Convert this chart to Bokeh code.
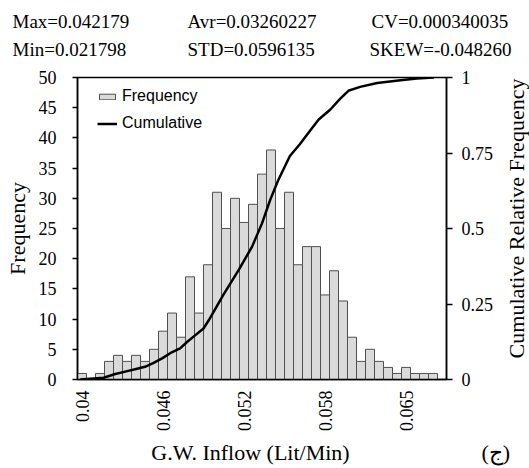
import math
from bokeh.plotting import figure
from bokeh.models import (Range1d, LinearAxis, FixedTicker, Legend, LegendItem,
                          NumeralTickFormatter)
from bokeh.core.properties import value
from bokeh.embed import file_html
from bokeh.resources import INLINE

# ---------------- data ----------------
bin_index = list(range(40))
frequency = [1, 0, 1, 3, 4, 3, 4, 3, 5, 8, 11, 7, 17, 11, 19, 31, 25, 30, 26, 29,
             34, 38, 25, 31, 19, 22, 22, 14, 18, 13, 7, 3, 5, 3, 2, 1, 2, 1, 1, 1]

x_tick_bins = [0, 9, 18, 27, 36]
x_tick_labels = ["0.04", "0.046", "0.052", "0.058", "0.065"]

y_ticks = [0, 5, 10, 15, 20, 25, 30, 35, 40, 45, 50]
cum_ticks = [0, 0.25, 0.5, 0.75, 1]

# cumulative relative frequency curve (x in bin units)
cum_x = [0.3, 2.9, 4.2, 5.3, 6.4, 7.5, 8.4, 9.4, 10.3, 11.4, 12.2, 13.1, 14.0, 14.6,
         16.2, 17.9, 19.4, 20.5, 21.4, 22.3, 23.6, 24.7, 25.9, 26.8, 28.1, 29.2,
         30.1, 31.4, 33.3, 35.9, 37.7, 39.6]
cum_y = [0.0, 0.006, 0.018, 0.026, 0.034, 0.042, 0.054, 0.070, 0.087, 0.103, 0.125,
         0.147, 0.169, 0.197, 0.280, 0.362, 0.440, 0.517, 0.594, 0.660, 0.740, 0.779,
         0.826, 0.861, 0.894, 0.930, 0.956, 0.969, 0.982, 0.991, 0.997, 1.0]

stats_row1 = ["Max=0.042179", "Avr=0.03260227", "CV=0.000340035"]
stats_row2 = ["Min=0.021798", "STD=0.0596135", "SKEW=-0.048260"]

x_title = "G.W. Inflow (Lit/Min)"
y_title = "Frequency"
y2_title = "Cumulative Relative Frequency"
panel_tag = "(ج)"

# ---------------- layout (canvas pixels) ----------------
W, H = 529, 468
FL, FR, FT, FB = 77, 446, 77, 379   # frame edges

SERIF = "Liberation Serif"
SANS = "Liberation Sans"

p = figure(width=W, height=H, output_backend="svg", toolbar_location=None,
           x_range=Range1d(0, 41), y_range=Range1d(0, 50),
           min_border_left=FL, min_border_right=W - FR, min_border_top=FT,
           min_border_bottom=H - FB, background_fill_color="white",
           border_fill_color="white")
p.extra_y_ranges = {"cum": Range1d(0, 1), "px": Range1d(FB, FT)}
p.extra_x_ranges = {"px": Range1d(FL, FR)}
p.xgrid.visible = False
p.ygrid.visible = False
p.outline_line_color = "black"
p.outline_line_width = 1.5

bars = p.vbar(x=[b + 0.5 for b in bin_index], top=frequency, width=1.0, bottom=0,
              fill_color="#dadada", line_color="#505050", line_width=1)
line = p.line(cum_x, cum_y, y_range_name="cum", line_color="black", line_width=2.5)

# left axis
ya = p.yaxis[0]
ya.ticker = FixedTicker(ticks=y_ticks)
ya.axis_label = y_title
ya.axis_label_text_font = SERIF
ya.axis_label_text_font_size = "22px"
ya.axis_label_text_font_style = "normal"
ya.axis_label_text_color = "black"
ya.axis_label_standoff = 6
ya.major_label_text_font = SERIF
ya.major_label_text_font_size = "18px"
ya.major_label_text_color = "black"
ya.major_label_standoff = 16
ya.major_tick_out = 5
ya.major_tick_in = 0
ya.minor_tick_out = 0
ya.minor_tick_in = 0
ya.axis_line_width = 1.5
ya.major_tick_line_width = 1.5

# right axis
ra = LinearAxis(y_range_name="cum", ticker=FixedTicker(ticks=cum_ticks),
                formatter=NumeralTickFormatter(format="0.[00]"))
ra.major_label_text_font = SERIF
ra.major_label_text_font_size = "18px"
ra.major_label_text_color = "black"
ra.major_label_standoff = 9
ra.major_tick_out = 6
ra.major_tick_in = 0
ra.minor_tick_out = 0
ra.minor_tick_in = 0
ra.axis_line_width = 1.5
ra.major_tick_line_width = 1.5
p.add_layout(ra, "right")

# bottom axis
xa = p.xaxis[0]
xa.ticker = FixedTicker(ticks=[b + 0.5 for b in x_tick_bins])
xa.major_label_overrides = {b + 0.5: lab for b, lab in zip(x_tick_bins, x_tick_labels)}
xa.major_label_orientation = math.pi / 2
xa.major_label_text_font = SERIF
xa.major_label_text_font_size = "18px"
xa.major_label_text_color = "black"
xa.major_label_standoff = 11
xa.major_tick_out = 0
xa.major_tick_in = 0
xa.minor_tick_out = 0
xa.minor_tick_in = 0
xa.axis_line_width = 1.5

# legend (top-left inside the frame)
legend = Legend(items=[LegendItem(label="Frequency", renderers=[bars]),
                       LegendItem(label="Cumulative", renderers=[line])],
                location=(20, 247), margin=0, padding=0,
                glyph_width=20, glyph_height=7, label_height=7,
                label_standoff=5, spacing=9,
                label_text_font=SANS, label_text_font_size="16px",
                label_text_color="black",
                border_line_alpha=0, background_fill_alpha=0)
p.add_layout(legend)

# texts outside the frame, drawn as overlay-level text glyphs on a pixel range
def put_text(xs, ys, texts, size, angle=0.0, align="left"):
    p.text(x=xs, y=ys, text=texts, x_range_name="px", y_range_name="px",
           level="overlay", angle=angle, text_font=value(SERIF),
           text_font_size=size, text_align=align, text_baseline="middle",
           text_color="black")

put_text([12, 187, 371], [21, 21, 21], stats_row1, "19px")
put_text([12, 187, 369], [49, 49, 49], stats_row2, "19px")
put_text([250], [452], [x_title], "22px", align="center")
put_text([481], [452], [panel_tag], "22px")
put_text([516], [218], [y2_title], "22px", angle=math.pi / 2, align="center")

open("out.html", "w").write(file_html(p, INLINE))
